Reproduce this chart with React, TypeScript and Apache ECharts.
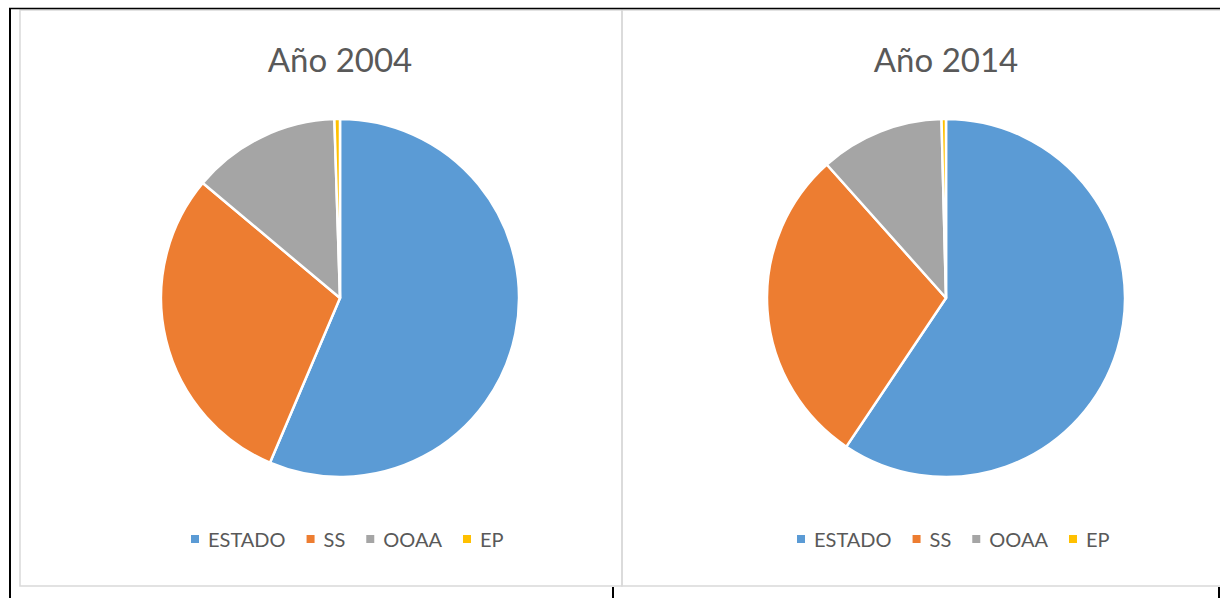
import React, { useEffect, useRef } from "react";
import * as echarts from "echarts";

const categories = ["ESTADO", "SS", "OOAA", "EP"];
const colors = ["#5B9BD5", "#ED7D31", "#A5A5A5", "#FFC000"];
const values2004 = [56.4, 29.7, 13.4, 0.5];
const values2014 = [59.4, 29.0, 11.2, 0.4];
const titles = ["Año 2004", "Año 2014"];

export default function App() {
  const ref = useRef<HTMLDivElement>(null);
  useEffect(() => {
    if (!ref.current) return;
    const chart = echarts.init(ref.current, null, { renderer: "svg" });
    const mkData = (vals: number[]) =>
      categories.map((c, i) => ({ name: c, value: vals[i], itemStyle: { color: colors[i] } }));
    const font = "Lato, 'Open Sans', sans-serif";
    const legendBase = {
      orient: "horizontal",
      top: 529,
      padding: 0,
      icon: "rect",
      itemWidth: 10,
      itemHeight: 10,
      itemGap: 19,
      selectedMode: false,
      data: categories,
      textStyle: { fontSize: 20, color: "#595959", fontFamily: font, padding: [0, 0, 0, 3] },
    };
    chart.setOption({
      animation: false,
      backgroundColor: "#ffffff",
      legend: [
        { ...legendBase, left: 189 },
        { ...legendBase, left: 795 },
      ],
      series: [
        {
          type: "pie",
          center: [340, 298],
          radius: 179,
          startAngle: 90,
          clockwise: true,
          label: { show: false },
          labelLine: { show: false },
          emphasis: { disabled: true },
          itemStyle: { borderColor: "#ffffff", borderWidth: 2.5 },
          data: mkData(values2004),
        },
        {
          type: "pie",
          center: [946, 298],
          radius: 179,
          startAngle: 90,
          clockwise: true,
          label: { show: false },
          labelLine: { show: false },
          emphasis: { disabled: true },
          itemStyle: { borderColor: "#ffffff", borderWidth: 2.5 },
          data: mkData(values2014),
        },
      ],
      graphic: [
        { type: "rect", shape: { x: 20, y: 10, width: 602, height: 576 }, style: { fill: "none", stroke: "#d9d9d9", lineWidth: 1.5 } },
        { type: "rect", shape: { x: 622, y: 10, width: 620, height: 576 }, style: { fill: "none", stroke: "#d9d9d9", lineWidth: 1.5 } },
        { type: "line", shape: { x1: 9, y1: 8.5, x2: 1220, y2: 8.5 }, style: { stroke: "#000", lineWidth: 1.5 } },
        { type: "line", shape: { x1: 10, y1: 8, x2: 10, y2: 598 }, style: { stroke: "#000", lineWidth: 2 } },
        { type: "line", shape: { x1: 613, y1: 587, x2: 613, y2: 598 }, style: { stroke: "#000", lineWidth: 2 } },
        { type: "line", shape: { x1: 1219, y1: 587, x2: 1219, y2: 598 }, style: { stroke: "#000", lineWidth: 2 } },
        { type: "text", x: 340, y: 59, style: { text: titles[0], fontSize: 33, fill: "#595959", fontFamily: font, textAlign: "center", textVerticalAlign: "middle" } },
        { type: "text", x: 946, y: 59, style: { text: titles[1], fontSize: 33, fill: "#595959", fontFamily: font, textAlign: "center", textVerticalAlign: "middle" } },
      ],
    });
    return () => chart.dispose();
  }, []);
  return (
    <div style={{ position: "fixed", left: 0, top: 0, width: 1220, height: 598, background: "#fff" }}>
      <div ref={ref} style={{ width: 1220, height: 598 }} />
    </div>
  );
}
